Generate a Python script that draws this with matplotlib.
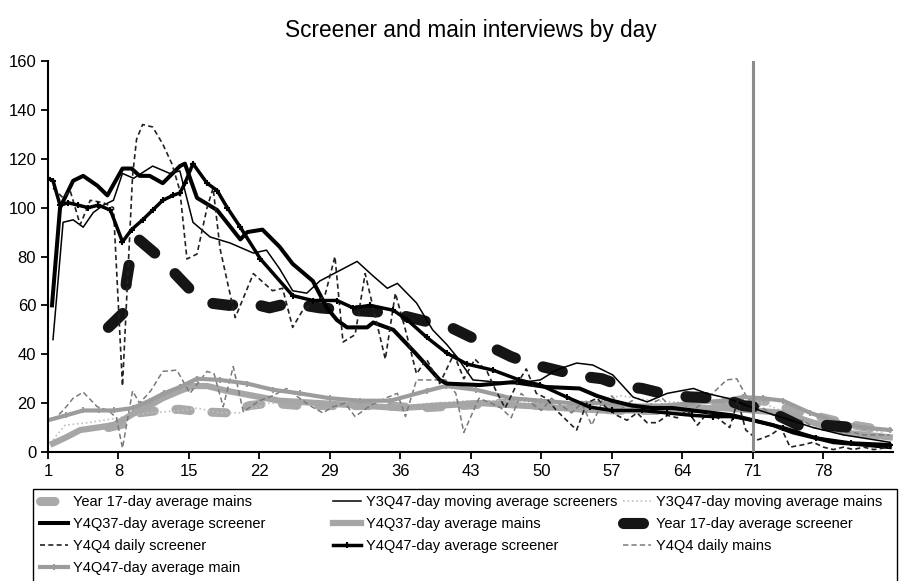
import matplotlib
matplotlib.use("Agg")
import matplotlib.pyplot as plt
from matplotlib.patches import Rectangle

plt.rcParams['font.family'] = ['Liberation Sans', 'DejaVu Sans']

# ---- data ----
y1_mains_x = [7, 9, 10, 12, 14, 16, 19, 21, 23, 26, 30, 34, 38, 42, 46, 50, 54, 58, 62, 66, 70, 72, 75, 78, 81, 84]
y1_mains_y = [10, 12, 16, 17, 17.5, 16.5, 16, 19, 20, 19, 19, 19, 18, 19, 20, 19, 18, 17, 17, 18, 20, 21, 17, 14, 11, 9]

y3_scr_x = [1.5, 2.5, 3.5, 4.5, 5.5, 6.5, 7.5, 8.4, 9.5, 11.4, 13.1, 14.1, 15.4, 17.1, 19.1, 21.4, 22.7, 24, 25.3,
            26.7, 28, 31.7, 33.3, 34.7, 35.7, 37.6, 39.2, 40.6, 41.6, 43.2, 47.2, 49.9, 51.5, 53.5, 55.1, 57.1, 59.1,
            60.5, 62.5, 65.1, 66.4, 68.5, 71.7, 74, 77, 80, 84.6]
y3_scr_y = [46, 94, 95, 92, 98, 101, 103, 114, 112, 117, 114, 115, 94, 88, 85.5, 81.4, 82.6, 75, 66,
            65, 70, 78, 72, 67, 69, 61, 50, 44, 39, 29.5, 28, 29.5, 33.6, 36.4, 35.6, 31.5, 22.5,
            20.5, 24, 26, 24, 22, 17, 14, 10, 7, 4]

y3_mains_x = [1.5, 2.7, 5, 8, 11, 14.4, 15.8, 18, 20, 23, 27, 31, 35, 39, 43, 47, 51, 55, 58, 61, 65, 69, 72, 75, 78, 81, 84]
y3_mains_y = [5, 11, 12, 14, 16, 17, 18, 16, 16, 20, 20, 19, 18, 20, 21, 21, 20, 21, 23, 21, 20, 21, 20, 15, 12, 10, 8]

y4q3_scr_x = [1.4, 2.2, 3.5, 4.5, 5.9, 6.9, 8.4, 9.3, 10.1, 11.1, 12.4, 14.1, 14.6, 15.8, 17.8, 20.1, 20.8, 22.3, 24,
              25.3, 27.3, 28.7, 29.7, 30.7, 32.7, 33.3, 35.3, 37.6, 39.9, 40.6, 43.9, 47.2, 50.5, 53.8, 55.5, 57,
              59, 61, 63, 65, 67, 69, 71, 73, 75, 77, 79, 82, 84.6]
y4q3_scr_y = [60, 100, 111, 113, 109, 105, 116, 116, 113, 113, 110, 117, 118, 104, 99, 87, 90, 91, 84,
              77, 70, 59, 54, 51, 51, 53, 50, 40, 29.5, 28, 27.4, 28.6, 26.6, 26, 23, 21,
              19, 18, 18, 17, 16, 15, 13, 11, 8, 6, 4, 3, 2]

y4q3_mains_x = [1.5, 2.8, 4.2, 5.9, 7.5, 8.8, 10, 11.1, 12.4, 14.1, 15.4, 16.8, 18.8, 21.4, 24, 28, 32, 36, 40, 44,
                48, 52, 56, 60, 64, 68, 71, 74, 77, 80, 84.6]
y4q3_mains_y = [3.5, 6, 9, 10, 11, 14, 17, 19, 22, 25, 27, 27, 25, 23, 21, 20, 19, 18, 19, 20,
                19, 18, 17, 17, 18, 18, 17, 16, 12, 8, 6]

y1_scr_x = [7, 8.5, 8.8, 9.2, 10, 12, 15, 17, 19, 21, 23, 25, 28, 31, 35, 37, 39, 41, 43, 45, 47, 49, 52, 54,
            56, 58, 60, 63, 65, 68, 70, 72, 74, 76, 78, 81]
y1_scr_y = [51, 57, 70, 80, 87, 80, 67, 61, 60, 61, 59, 61, 59, 58, 57, 55, 53, 51, 47, 43, 39, 36, 33, 31,
            30, 27, 26, 23, 22.5, 22, 19, 18, 14, 10, 11, 10]

y4q4_daily_scr_x = [1.5, 2.5, 3.2, 4.2, 5.2, 6.5, 7.5, 8.4, 9.4, 9.8, 10.4, 11.4, 12.4, 13.3, 14.1, 14.8, 15.8,
                    16.8, 17.4, 18.1, 19.6, 21.4, 23.3, 24.3, 25.3, 26.3, 28.5, 29.5, 30.3, 31.5, 32.5, 34.5,
                    35.5, 36.5, 37.6, 38.6, 39.9, 41.3, 42.3, 43.4, 44.6, 45.5, 46.4, 47.6, 48.5, 49.5, 50.5,
                    51.5, 53.5, 54.5, 55.5, 56.5, 57.5, 58.5, 59.5, 60.5, 61.5, 62.5, 63.5, 64.5, 65.5, 66.5,
                    67.5, 68.7, 69.5, 70.3, 71.5, 72.8, 73.8, 74.7, 76, 77, 78, 79, 80, 81, 82, 83, 84.6]
y4q4_daily_scr_y = [108, 104, 107, 93, 103, 102, 100, 27, 113, 128, 134, 133, 126, 118, 107, 79, 81,
                    100, 108, 83, 55, 73, 66, 67, 51, 58, 64, 80, 45, 48, 73, 38,
                    65, 50, 32, 38, 28, 40, 30, 38, 33, 25, 18, 28, 34, 24, 22,
                    17, 9, 20, 22, 18, 15, 13, 16, 12, 12, 15, 14, 17, 11, 16,
                    14, 10, 21, 9, 5, 7, 10, 2, 3, 4, 2, 1, 2, 1, 2, 1, 2]

y4q4_avg_scr_x = [1, 1.5, 2.2, 3, 4, 5, 6, 7.2, 8.4, 9.3, 10.4, 11.4, 12.4, 13.4, 14.1, 14.6, 15.4, 16.8, 17.8,
                  18.8, 20.1, 22.1, 25.3, 27.3, 29.7, 31.3, 33, 35.3, 36.7, 38.6, 40.6, 42.6, 45.2, 47.8,
                  49.9, 52.5, 54.8, 57, 60, 62.5, 65, 67, 69, 71, 74, 77.3, 80.7, 84.6]
y4q4_avg_scr_y = [112, 111, 101, 102, 101, 100, 101, 99, 86, 91, 95, 99, 103, 105, 106, 110, 118, 110, 107,
                  100, 92, 79, 64, 62, 62, 59, 60, 58, 54, 47, 40.5, 36, 33.5, 29.5,
                  27.4, 22.5, 18.4, 17, 17, 16, 15, 14.5, 14.5, 13, 10, 5.7, 3.7, 3]

y4q4_daily_mains_x = [1.5, 2.5, 3.5, 4.5, 5.9, 7, 7.8, 8.4, 9.4, 10.1, 11.2, 12.4, 13.8, 15.1, 16.8, 17.5, 18.4,
                      19.4, 20.4, 22, 23.3, 24.7, 26, 27, 28.3, 29.3, 30.5, 31.5, 33, 34.5, 35.7, 36.5, 37.6,
                      38.5, 40.5, 41.5, 42.3, 43.8, 45, 46, 47, 48, 49, 50, 51, 52, 53, 54, 55, 56, 57, 58,
                      59, 60, 61, 62, 63, 64, 65, 66, 67, 68.4, 69.4, 70.4, 71, 72, 73, 74, 75, 76, 77, 78,
                      79, 80, 81, 82, 83, 84.6]
y4q4_daily_mains_y = [13, 17, 22, 24.5, 18.5, 17, 14, 1.6, 25, 20, 25, 33, 33.5, 24, 33, 32, 18.5,
                      35, 16.5, 21, 23, 26, 22, 19, 16, 18.5, 20, 14.5, 19, 22, 24, 14.5, 29.5,
                      29.5, 29.5, 24, 8, 22, 20, 18, 14, 24, 20, 17, 22, 19, 16, 20, 11, 20, 23, 18,
                      21, 17, 20, 22, 18, 20, 17, 20, 24, 29.5, 30, 22.5, 20, 18, 15, 16, 12, 13, 10, 9,
                      9, 8, 8, 7, 7, 7]

y4q4_avg_mains_x = [1, 2.8, 4.5, 6.1, 7.6, 9.4, 11.1, 12.5, 14.1, 15.8, 18.1, 20.8, 23.3, 26, 29, 32, 35, 38.6,
                    40.5, 43.5, 47, 50, 53, 56, 59, 62, 65, 68, 70, 72, 74, 76.7, 79.6, 82, 84.6]
y4q4_avg_mains_y = [13, 15, 17, 17, 17, 18, 21, 24, 26.6, 30, 29.5, 28, 25.5, 24, 22, 21, 21, 25,
                    27, 25.5, 22, 21, 20, 20, 19, 19, 20, 21, 22.5, 22, 21, 16, 12, 10, 9]

x_ticks = [1, 8, 15, 22, 29, 36, 43, 50, 57, 64, 71, 78]
y_ticks = [0, 20, 40, 60, 80, 100, 120, 140, 160]
cutoff_day = 71

W, H = 900, 581
fig = plt.figure(figsize=(9, 5.81), dpi=100)
ax = fig.add_axes([0.0533, 0.222, 0.9387, 0.673])

# mains (grey) first, screeners (black) on top
h1, = ax.plot(y1_mains_x, y1_mains_y, color='#a9a9a9', lw=6.5, dashes=(1.6, 2.4),
              dash_capstyle='round', solid_capstyle='round', label='Year 17-day average mains')
h3, = ax.plot(y3_mains_x, y3_mains_y, color='#c0c0c0', lw=1.2, ls=':',
              label='Y3Q47-day moving average mains')
h5, = ax.plot(y4q3_mains_x, y4q3_mains_y, color='#a6a6a6', lw=4.5,
              label='Y4Q37-day average mains')
h9, = ax.plot(y4q4_daily_mains_x, y4q4_daily_mains_y, color='#7a7a7a', lw=1.1, dashes=(3.5, 2),
              label='Y4Q4 daily mains')
h10, = ax.plot(y4q4_avg_mains_x, y4q4_avg_mains_y, color='#9c9c9c', lw=3, marker='+', ms=5, mew=1.5,
               label='Y4Q47-day average main')

h6, = ax.plot(y1_scr_x, y1_scr_y, color='#151515', lw=8, dashes=(1.8, 2.6),
              dash_capstyle='round', solid_capstyle='round', label='Year 17-day average screener')
h2, = ax.plot(y3_scr_x, y3_scr_y, color='black', lw=1.1,
              label='Y3Q47-day moving average screeners')
h4, = ax.plot(y4q3_scr_x, y4q3_scr_y, color='black', lw=2.9,
              label='Y4Q37-day average screener')
h7, = ax.plot(y4q4_daily_scr_x, y4q4_daily_scr_y, color='#222222', lw=1.2, dashes=(3, 2),
              label='Y4Q4 daily screener')
h8, = ax.plot(y4q4_avg_scr_x, y4q4_avg_scr_y, color='black', lw=2.5, marker='+', ms=5, mew=1.5,
              label='Y4Q47-day average screener')

ax.axvline(cutoff_day, color='#8c8c8c', lw=2.2, zorder=5)

ax.set_xlim(1, 84.9)
ax.set_ylim(0, 160)
ax.set_xticks(x_ticks)
ax.set_yticks(y_ticks)
for s in ['top', 'right']:
    ax.spines[s].set_visible(False)
for s in ['left', 'bottom']:
    ax.spines[s].set_linewidth(1.5)
ax.tick_params(axis='both', direction='out', length=5, width=1.3, labelsize=12)
ax.set_title('Screener and main interviews by day', fontsize=16.3, pad=17)

# legend box, cut off at the bottom like the original
fig.patches.append(Rectangle((33 / W, -0.05), (897 - 33) / W, 0.05 + 1 - 489 / H,
                             transform=fig.transFigure, fill=False, edgecolor='black', lw=1.0))

# one legend per column so each column starts where it does in the original
columns = [[h1, h4, h7, h10], [h2, h5, h8], [h3, h6, h9]]
col_x = [40, 333, 623]
for hs, x0 in zip(columns, col_x):
    lg = fig.legend(handles=hs, labels=[h.get_label() for h in hs], loc='upper left',
                    bbox_to_anchor=(x0 / W, 1 - 495 / H), fontsize=10.5, frameon=False,
                    handlelength=1.9, handletextpad=0.35, labelspacing=0.55, borderpad=0,
                    borderaxespad=0)

fig.savefig('out.png', dpi=100)
